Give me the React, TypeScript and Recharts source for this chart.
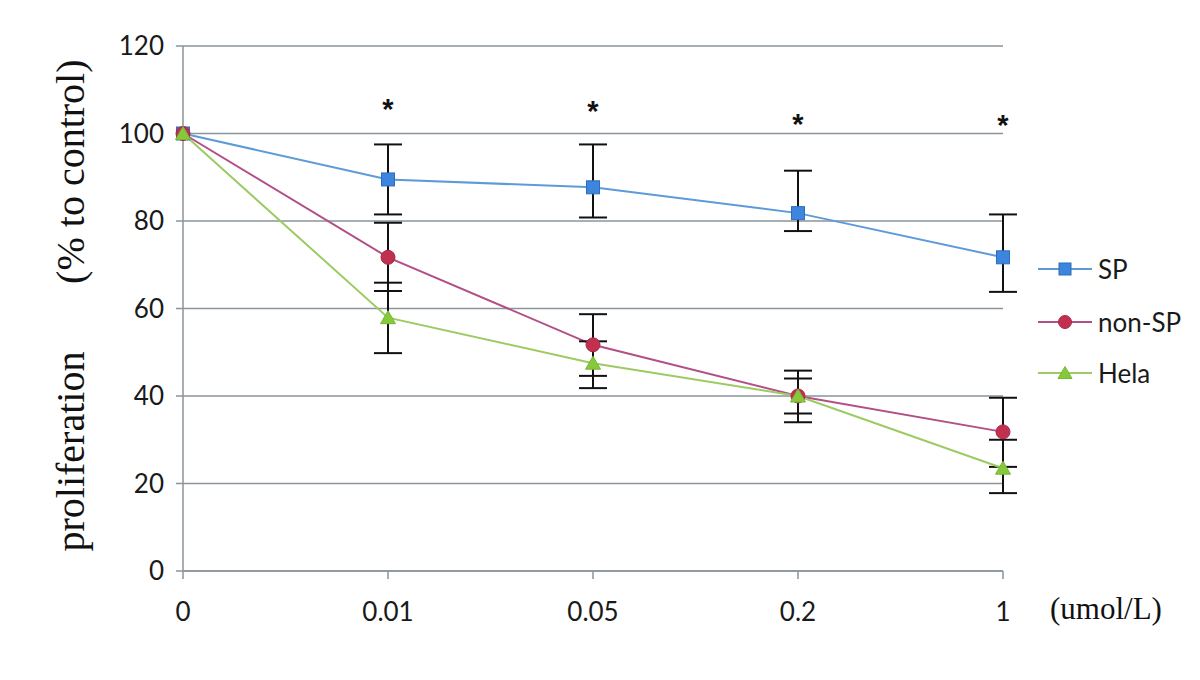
import React from 'react';
import { LineChart, Line, XAxis, YAxis, CartesianGrid, ErrorBar } from 'recharts';

const categories = ['0', '0.01', '0.05', '0.2', '1'];
const spValues = [100, 89.5, 87.7, 81.8, 71.7];
const spErrors: (number[] | null)[] = [null, [8, 8], [6.9, 9.8], [4.1, 9.7], [7.9, 9.8]];
const nonSpValues = [100, 71.7, 51.7, 40, 31.8];
const nonSpErrors: (number[] | null)[] = [null, [7.7, 7.9], [7.1, 7], [6, 5.8], [8, 7.8]];
const helaValues = [100, 57.9, 47.5, 40, 23.5];
const helaErrors: (number[] | null)[] = [null, [8.1, 8], [5.7, 5], [4, 4], [5.7, 6.5]];
const significance: (number | null)[] = [null, 106.3, 105.8, 102.9, 102.6];
const yTicks = [0, 20, 40, 60, 80, 100, 120];
const seriesNames = ['SP', 'non-SP', 'Hela'];

const data = categories.map((c, i) => ({
  cat: c,
  sp: spValues[i],
  spErr: spErrors[i],
  nonSp: nonSpValues[i],
  nonSpErr: nonSpErrors[i],
  hela: helaValues[i],
  helaErr: helaErrors[i],
  sig: significance[i],
}));

const GRID = '#8b959b';
const SP_LINE = '#5d9bd8';
const SP_FILL = '#3d86de';
const SP_STROKE = '#2f6cbc';
const NS_LINE = '#b14f86';
const NS_FILL = '#c3304f';
const NS_STROKE = '#a3294a';
const HE_LINE = '#9ccb62';
const HE_FILL = '#86c93a';
const HE_STROKE = '#79b634';
const TICK_FONT = 'Lato, "Open Sans", sans-serif';
const SERIF = '"Liberation Serif", "Times New Roman", serif';

const SquareDot = (props: any) => {
  const { cx, cy } = props;
  if (cx == null || cy == null) return <g />;
  return <rect x={cx - 6.5} y={cy - 6.5} width={13} height={13} fill={SP_FILL} stroke={SP_STROKE} strokeWidth={1} />;
};
const CircleDot = (props: any) => {
  const { cx, cy } = props;
  if (cx == null || cy == null) return <g />;
  return <circle cx={cx} cy={cy} r={7} fill={NS_FILL} stroke={NS_STROKE} strokeWidth={1} />;
};
const TriDot = (props: any) => {
  const { cx, cy } = props;
  if (cx == null || cy == null) return <g />;
  return <polygon points={`${cx},${cy - 7} ${cx + 7.5},${cy + 6} ${cx - 7.5},${cy + 6}`} fill={HE_FILL} stroke={HE_STROKE} strokeWidth={1} />;
};
const StarDot = (props: any) => {
  const { cx, cy } = props;
  if (cx == null || cy == null || isNaN(cy)) return <g />;
  return (
    <text x={cx} y={cy + 13} textAnchor="middle" fontSize={29} fontWeight="bold" fontFamily='"Liberation Sans", Arial, sans-serif' fill="#111">
      *
    </text>
  );
};

const YLabel = (props: any) => {
  const vb = props.viewBox || { x: 103, y: 46, width: 80, height: 525 };
  const cx = vb.x - 33;
  const cy = vb.y + vb.height / 2 - 3;
  const half = 246;
  const common = {
    dominantBaseline: 'central' as any,
    fontSize: 40,
    fill: '#111',
    style: { fontFamily: SERIF },
  };
  return (
    <g transform={`rotate(-90 ${cx} ${cy})`}>
      <text x={cx - half} y={cy} textAnchor="start" {...common}>proliferation</text>
      <text x={cx + half} y={cy} textAnchor="end" {...common}>(% to control)</text>
    </g>
  );
};

const UnitLabel = (props: any) => {
  const vb = props.viewBox || { x: 183, y: 571, width: 820, height: 50 };
  return (
    <text x={vb.x + vb.width + 47} y={vb.y + 37} dominantBaseline="central" style={{ fontFamily: SERIF }} fontSize={31} fill="#111">
      (umol/L)
    </text>
  );
};

const legendMarker = (i: number) => {
  if (i === 0) return <rect x={21} y={4} width={12} height={12} fill={SP_FILL} stroke={SP_STROKE} />;
  if (i === 1) return <circle cx={27} cy={10} r={6.5} fill={NS_FILL} stroke={NS_STROKE} />;
  return <polygon points="27,3.5 34,15.5 20,15.5" fill={HE_FILL} stroke={HE_STROKE} />;
};
const legendColors = [SP_LINE, NS_LINE, HE_LINE];
const legendY = [269, 322, 373];

export default function App() {
  return (
    <div style={{ position: 'absolute', left: 0, top: 0, width: 1200, height: 680, background: '#fff' }}>
      <LineChart width={1200} height={680} data={data} margin={{ top: 46, right: 197, bottom: 59, left: 103 }}>
        <CartesianGrid vertical={false} stroke={GRID} strokeWidth={1.5} />
        <XAxis
          dataKey="cat"
          interval={0}
          height={50}
          tickSize={8}
          tickMargin={24}
          axisLine={{ stroke: GRID, strokeWidth: 1.5 }}
          tickLine={{ stroke: GRID, strokeWidth: 1.5 }}
          tick={{ fill: '#1a1a1a', fontSize: 26, fontFamily: TICK_FONT }}
          label={<UnitLabel />}
        />
        <YAxis
          width={80}
          domain={[0, 120]}
          ticks={yTicks}
          tickSize={7}
          tickMargin={12}
          axisLine={{ stroke: GRID, strokeWidth: 1.5 }}
          tickLine={{ stroke: GRID, strokeWidth: 1.5 }}
          tick={{ fill: '#1a1a1a', fontSize: 26, fontFamily: TICK_FONT }}
          label={<YLabel />}
        />
        <Line type="linear" dataKey="sp" stroke={SP_LINE} strokeWidth={2} dot={<SquareDot />} activeDot={false} isAnimationActive={false}>
          <ErrorBar dataKey="spErr" direction="y" width={14} strokeWidth={2} stroke="#111" />
        </Line>
        <Line type="linear" dataKey="nonSp" stroke={NS_LINE} strokeWidth={2} dot={<CircleDot />} activeDot={false} isAnimationActive={false}>
          <ErrorBar dataKey="nonSpErr" direction="y" width={14} strokeWidth={2} stroke="#111" />
        </Line>
        <Line type="linear" dataKey="hela" stroke={HE_LINE} strokeWidth={2} dot={<TriDot />} activeDot={false} isAnimationActive={false}>
          <ErrorBar dataKey="helaErr" direction="y" width={14} strokeWidth={2} stroke="#111" />
        </Line>
        <Line type="linear" dataKey="sig" stroke="none" dot={<StarDot />} activeDot={false} isAnimationActive={false} connectNulls={false} />
      </LineChart>
      {seriesNames.map((name, i) => (
        <div
          key={name}
          style={{
            position: 'absolute',
            left: 1038,
            top: legendY[i] - 10,
            height: 20,
            display: 'flex',
            alignItems: 'center',
            fontFamily: TICK_FONT,
            fontSize: 26,
            color: '#1a1a1a',
            whiteSpace: 'nowrap',
          }}
        >
          <svg width={56} height={20} style={{ display: 'block' }}>
            <line x1={0} y1={10} x2={54} y2={10} stroke={legendColors[i]} strokeWidth={2} />
            {legendMarker(i)}
          </svg>
          <span style={{ marginLeft: 4, lineHeight: '20px' }}>{name}</span>
        </div>
      ))}
    </div>
  );
}
